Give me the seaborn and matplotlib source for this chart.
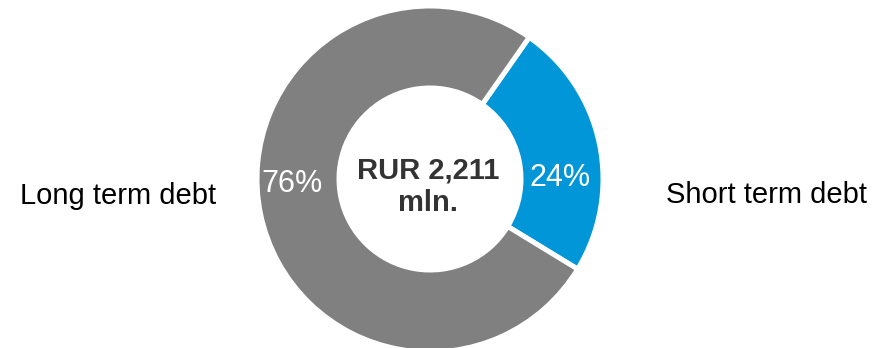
import matplotlib
matplotlib.use("Agg")
import matplotlib.pyplot as plt
import seaborn as sns

# Debt structure
categories = ["Short term debt", "Long term debt"]
shares = [24, 76]
pct_labels = ["24%", "76%"]
total_label = "RUR 2,211\nmln."

sns.set_theme(style="white")
plt.rcParams["font.family"] = ["Liberation Sans", "DejaVu Sans"]

colors = ["#0096D7", "#808080"]

W, H = 889, 348
fig = plt.figure(figsize=(W / 100, H / 100), dpi=100)
ax = fig.add_axes([0, 0, 1, 1])

cx, cy = 430, H - 179
r_out = 173
ring = 82

ax.pie(shares, colors=colors, startangle=55, counterclock=False,
       center=(cx, cy), radius=r_out,
       wedgeprops=dict(width=ring, edgecolor="white", linewidth=3.6),
       frame=True)
ax.set_xlim(0, W)
ax.set_ylim(0, H)
ax.axis("off")

# percentage labels inside the ring
ax.text(560, H - 178, pct_labels[0], color="white", fontsize=22,
        ha="center", va="center")
ax.text(292, H - 184, pct_labels[1], color="white", fontsize=22,
        ha="center", va="center")

# total in the hole
ax.text(cx - 2, H - 187, total_label, color="#333333", fontsize=21,
        fontweight="bold", ha="center", va="center", linespacing=1.2)

# category names on either side
ax.text(20, H - 196, categories[1], color="black", fontsize=21,
        ha="left", va="center")
ax.text(867, H - 195, categories[0], color="black", fontsize=21,
        ha="right", va="center")

fig.savefig("out.png", dpi=100)
